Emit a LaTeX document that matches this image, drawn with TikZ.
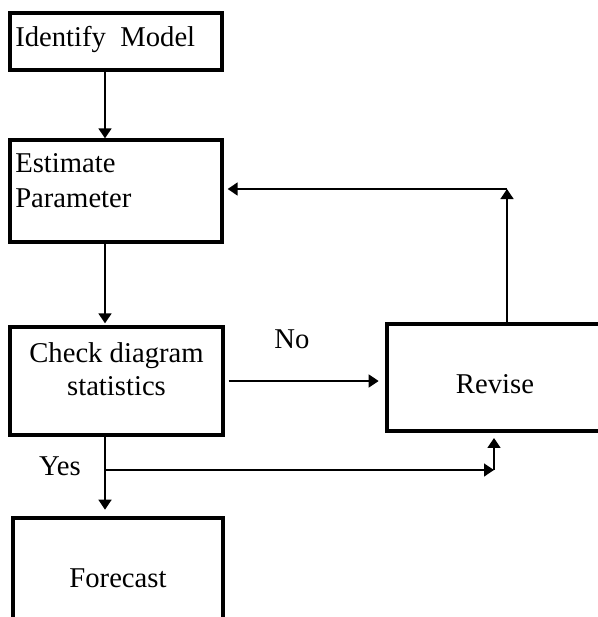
\documentclass[tikz,border=0pt]{standalone}
\usepackage{fontspec}
\setmainfont{Liberation Serif}
\usetikzlibrary{arrows.meta, calc, positioning}
\tikzset{
  blk/.style={draw, line width=2.4pt, inner sep=0pt},
  txt/.style={inner sep=0pt, font=\fontsize{21.5}{26}\selectfont},
  arr/.style={line width=1.8pt, -{Triangle[length=7.5pt,width=9.5pt]}}
}

\begin{document}
\begin{tikzpicture}[x=0.75pt,y=-0.75pt]
  \useasboundingbox (0,0) rectangle (597,617);
  % boxes
  \node[blk, minimum width=159pt, minimum height=42.75pt] (ident) at (116,41.5) {};
  \node[blk, minimum width=159pt, minimum height=76.5pt] (estim) at (116,191) {};
  \node[blk, minimum width=159.75pt, minimum height=81pt] (check) at (116.5,381) {};
  \node[blk, minimum width=170pt, minimum height=80.25pt] (revise) at (500.3,377.5) {};
  \node[blk, minimum width=157.5pt, minimum height=106.5pt] (fcast) at (118,589) {};
  % texts (base of a two-line node is its last line)
  \node[txt, anchor=base west] (identtxt) at (15,47) {Identify\ \ Model};
  \node[txt, anchor=base west, align=left] (estimtxt) at (15,207) {Estimate\\Parameter};
  \node[txt, anchor=base, align=center, font=\fontsize{21.5}{24.75}\selectfont] (checktxt) at (116.5,395) {Check diagram\\statistics};
  \node[txt, anchor=base] (revisetxt) at (495,393) {Revise};
  \node[txt, anchor=base] (fcasttxt) at (118,587) {Forecast};
  \node[txt, anchor=base] (notxt) at (292,348) {No};
  \node[txt, anchor=base] (yestxt) at (60,475) {Yes};
  % connectors
  \coordinate (spine) at (105,0);
  \coordinate (yesfork) at (104,470);
  \coordinate (yescorner) at (494,470);
  \coordinate (fbcorner) at (507,189);
  \draw[arr] (spine |- ident.south) -- (spine |- estim.north);
  \draw[arr] (spine |- estim.south) -- ([yshift=1.5pt]spine |- check.north);
  \draw[arr] ([xshift=3pt]check.east) -- ([xshift=-5pt]check.east -| revise.west);
  \draw[arr] (spine |- check.south) -- ([yshift=5pt]spine |- fcast.north);
  \draw[arr] (spine |- yesfork) -- (yescorner);
  \draw[arr] (yescorner) -- ([yshift=-4pt]yescorner |- revise.south);
  \draw[arr] (fbcorner |- revise.north) -- (fbcorner);
  \draw[arr] (fbcorner) -- ([xshift=3pt]fbcorner -| estim.east);
\end{tikzpicture}
\end{document}
